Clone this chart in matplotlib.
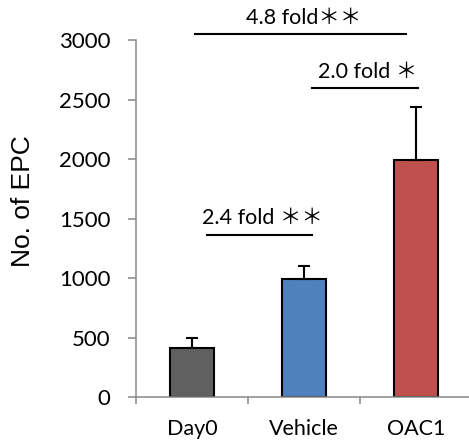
import matplotlib.pyplot as plt
import numpy as np

groups = ['Day0', 'Vehicle', 'OAC1']
epc_counts = [415, 990, 1990]
epc_err = [85, 115, 445]
bar_colors = ['#606060', '#4F81BD', '#C0504D']

# significance brackets: (left, right, height, label)
brackets = [
    (0.03, 1.91, 3050, '4.8 fold\uff0a\uff0a'),
    (1.07, 2.02, 2595, '2.0 fold \uff0a'),
    (0.13, 1.07, 1365, '2.4 fold \uff0a\uff0a'),
]

LABEL_FONT = ['Lato', 'Noto Sans CJK JP']


def main():
    fig = plt.figure(figsize=(4.69, 4.44), dpi=100)
    ax = fig.add_axes([136 / 469, 47 / 444, 336 / 469, 357 / 444])

    x = np.arange(len(groups))
    ax.bar(x, epc_counts, width=0.4, color=bar_colors, edgecolor='black',
           linewidth=1.5, zorder=2)
    ax.errorbar(x, epc_counts, yerr=[np.zeros(len(x)), epc_err], fmt='none',
                ecolor='black', elinewidth=1.5, capsize=4.5, capthick=1.5,
                zorder=3)

    for left, right, h, label in brackets:
        ax.plot([left, right], [h, h], color='black', lw=1.5, clip_on=False)
        ax.annotate(label, ((left + right) / 2 + 0.025, h), xytext=(0, 7.5),
                    textcoords='offset points', ha='center', va='baseline',
                    fontsize=15.5, family=LABEL_FONT, annotation_clip=False)

    ax.set_xlim(-0.5, 2.5)
    ax.set_ylim(0, 3000)
    ax.set_yticks(np.arange(0, 3001, 500))
    ax.set_xticks([-0.5, 0.5, 1.5, 2.5])
    ax.set_xticklabels([])
    ax.set_xticks(x, minor=True)
    ax.set_xticklabels(groups, minor=True, family=LABEL_FONT, fontsize=15.5)
    ax.tick_params(axis='x', which='minor', length=0, pad=16)
    ax.tick_params(axis='x', which='major', direction='out', length=5,
                   color='#888888', width=1.1)
    ax.tick_params(axis='y', direction='out', length=5.5, color='#888888',
                   width=1.1, pad=13)
    for lab in ax.get_yticklabels():
        lab.set_family(LABEL_FONT)
        lab.set_fontsize(16)

    for side in ['top', 'right']:
        ax.spines[side].set_visible(False)
    for side in ['left', 'bottom']:
        ax.spines[side].set_color('#888888')
        ax.spines[side].set_linewidth(1.1)

    ax.set_ylabel('No. of EPC', family='Liberation Sans', fontsize=19,
                  va='center')
    ax.yaxis.set_label_coords(-0.336, 0.549)

    fig.savefig('out.png', dpi=100)


if __name__ == '__main__':
    main()
